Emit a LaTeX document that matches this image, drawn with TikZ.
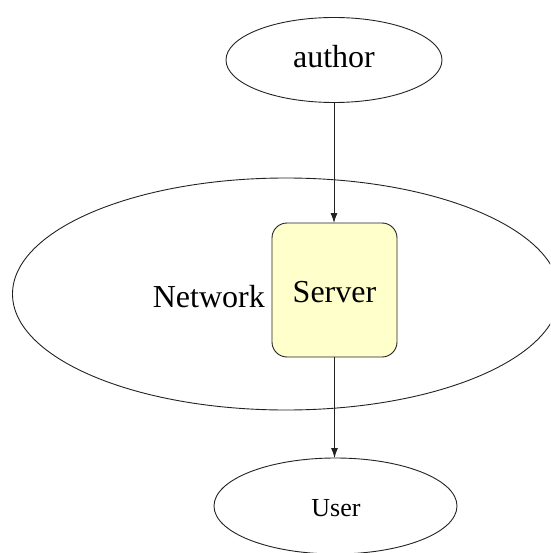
\documentclass[tikz,border=0pt]{standalone}
\usepackage{fontspec}
\setmainfont{Liberation Serif}
\usetikzlibrary{shapes.geometric,arrows.meta}
\definecolor{serverfill}{HTML}{FFFFCC}
\definecolor{inkline}{HTML}{222222}
\begin{document}
\begin{tikzpicture}[x=1pt,y=-1pt,
  outline/.style={draw=inkline,line width=0.9pt,inner sep=0pt,outer sep=0pt},
  oval/.style={outline,ellipse},
  serverbox/.style={outline,rectangle,rounded corners=15pt,fill=serverfill,
    minimum width=125pt,minimum height=134pt},
  caption/.style={inner sep=0pt,anchor=base,font=\fontsize{32}{38}\selectfont},
  smallcaption/.style={caption,font=\fontsize{26}{31}\selectfont},
  flow/.style={draw=inkline,line width=0.9pt,-{Latex[length=10pt,width=7pt]}}]
\useasboundingbox (0,0) rectangle (550,553);
\clip (0,0) rectangle (550,553);

% shapes
\node[oval,minimum width=547pt,minimum height=232pt] (network) at (286,294) {};
\node[oval,minimum width=216pt,minimum height=85pt] (author) at (334,60) {};
\node[oval,minimum width=243pt,minimum height=96pt] (user) at (335.5,506) {};
\node[serverbox] (server) at (334.5,290) {};

% labels
\node[caption] (authortext) at (334,68) {author};
\node[caption] (servertext) at (334.5,302) {Server};
\node[caption,anchor=base east] (networktext) at (265,307) {Network};
\node[smallcaption] (usertext) at (336,516) {User};

% connectors
\draw[flow] (author.south) -- (author.south |- server.north);
\draw[flow] (server.south) -- (server.south |- user.north);
\end{tikzpicture}
\end{document}
